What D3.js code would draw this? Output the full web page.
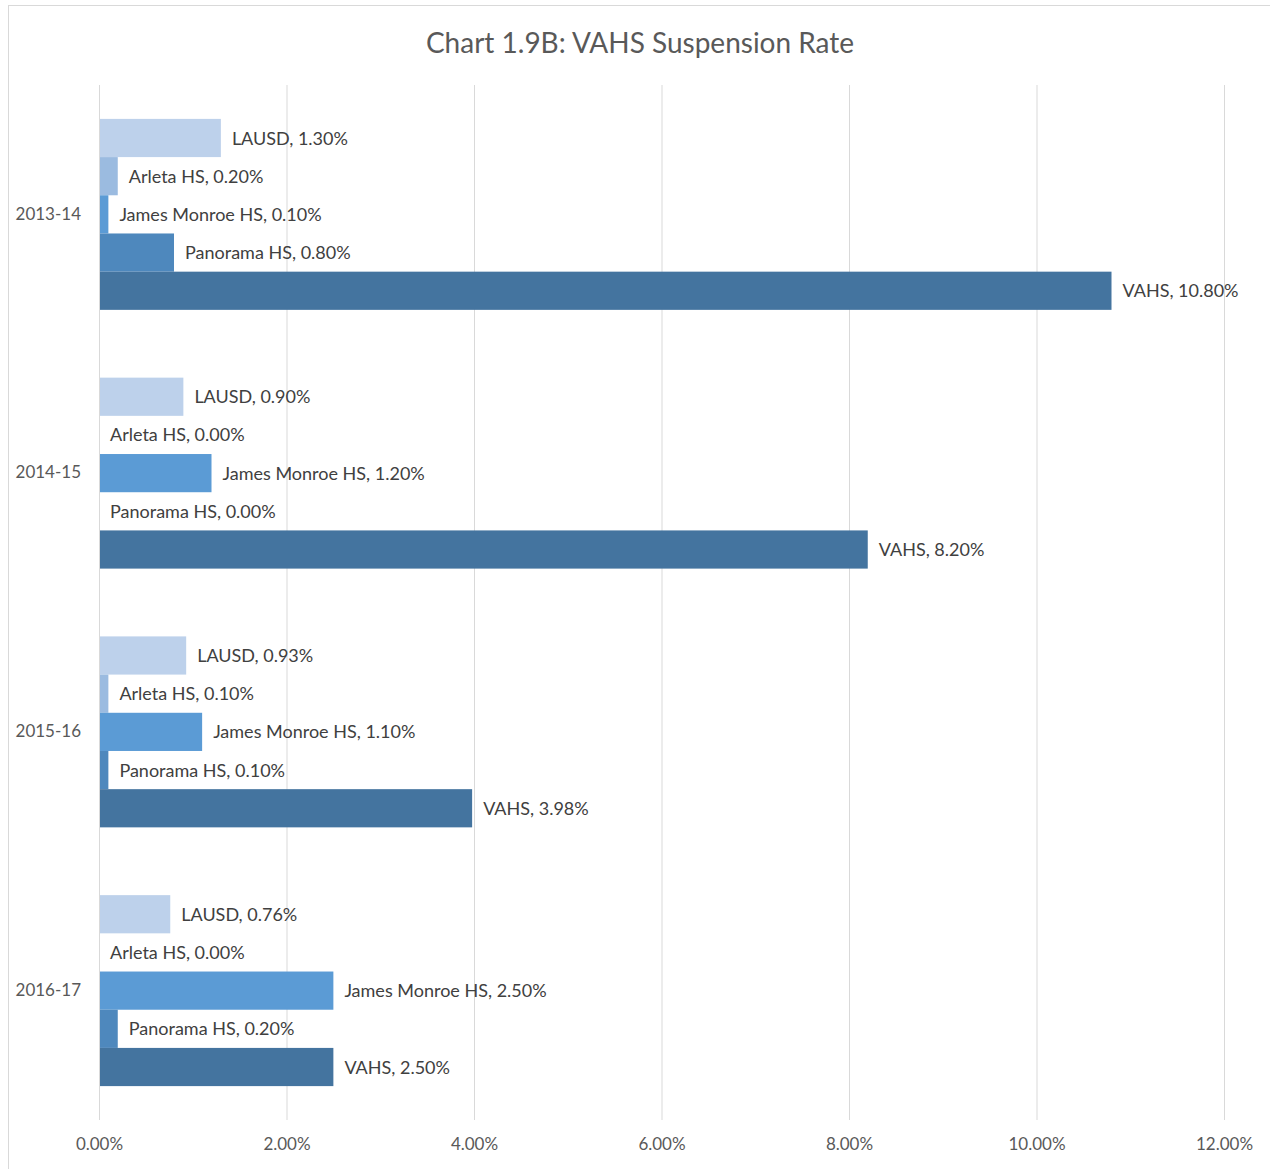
<!DOCTYPE html>
<html>
<head>
<meta charset="utf-8">
<script src="https://cdn.jsdelivr.net/npm/d3@7"></script>
<style>
  body { margin: 0; background: #fff; }
  svg { display: block; font-family: Lato, "Open Sans", sans-serif; }
</style>
</head>
<body>
<div id="chart"></div>
<script>
const years = ["2013-14", "2014-15", "2015-16", "2016-17"];
const schools = ["LAUSD", "Arleta HS", "James Monroe HS", "Panorama HS", "VAHS"];
const colors = ["#bdd1eb", "#9bbbe0", "#5b9bd5", "#4e88bd", "#44749f"];

const lausd = [1.30, 0.90, 0.93, 0.76];
const arleta = [0.20, 0.00, 0.10, 0.00];
const monroe = [0.10, 1.20, 1.10, 2.50];
const panorama = [0.80, 0.00, 0.10, 0.20];
const vahs = [10.80, 8.20, 3.98, 2.50];
const seriesValues = [lausd, arleta, monroe, panorama, vahs];

const xTicks = [0, 2, 4, 6, 8, 10, 12];

const W = 1270, H = 1169;
const margin = { top: 85, right: 46, bottom: 49, left: 99 };
const width = W - margin.left - margin.right;
const height = H - margin.top - margin.bottom;

const svg = d3.select("#chart").append("svg")
    .attr("width", W)
    .attr("height", H);

// outer chart border
svg.append("rect")
    .attr("x", 8.5).attr("y", 5.5)
    .attr("width", W + 10).attr("height", H + 10)
    .attr("fill", "none")
    .attr("stroke", "#d9d9d9");

svg.append("text")
    .attr("x", 640).attr("y", 46)
    .attr("text-anchor", "middle")
    .attr("dominant-baseline", "middle")
    .attr("fill", "#595959")
    .attr("font-size", 28)
    .text("Chart 1.9B: VAHS Suspension Rate");

const g = svg.append("g")
    .attr("transform", `translate(${margin.left}, ${margin.top})`);

const x = d3.scaleLinear().domain([0, 12]).range([0, width]);
const y0 = d3.scaleBand().domain(years).range([0, height]).paddingInner(0.262).paddingOuter(0.131);
const y1 = d3.scaleBand().domain(schools).range([0, y0.bandwidth()]);

// gridlines
g.append("g")
    .selectAll("line")
    .data(xTicks)
    .join("line")
    .attr("x1", d => x(d) + 0.5).attr("x2", d => x(d) + 0.5)
    .attr("y1", 0).attr("y2", height)
    .attr("stroke", "#d9d9d9");

const xAxis = d3.axisBottom(x)
    .tickValues(xTicks)
    .tickSize(0)
    .tickPadding(18)
    .tickFormat(d => d.toFixed(2) + "%");

g.append("g")
    .attr("transform", `translate(0, ${height})`)
    .call(xAxis)
    .call(a => a.select(".domain").remove())
    .selectAll("text")
    .attr("fill", "#595959")
    .attr("font-size", 17)
    .attr("font-family", "Lato, sans-serif");

// category labels
g.append("g")
    .selectAll("text")
    .data(years)
    .join("text")
    .attr("x", -18)
    .attr("y", d => y0(d) + y0.bandwidth() / 2 + 1)
    .attr("text-anchor", "end")
    .attr("dominant-baseline", "middle")
    .attr("fill", "#595959")
    .attr("font-size", 17)
    .text(d => d);

const rows = [];
years.forEach((yr, i) => {
    schools.forEach((s, j) => {
        rows.push({ year: yr, school: s, value: seriesValues[j][i], color: colors[j] });
    });
});

const groups = g.append("g");

groups.selectAll("rect")
    .data(rows)
    .join("rect")
    .attr("x", x(0) + 1)
    .attr("y", d => y0(d.year) + y1(d.school))
    .attr("width", d => Math.max(0, x(d.value) - x(0) - 1))
    .attr("height", y1.bandwidth())
    .attr("fill", d => d.color);

groups.selectAll("text")
    .data(rows)
    .join("text")
    .attr("x", d => x(d.value) + 11)
    .attr("y", d => y0(d.year) + y1(d.school) + y1.bandwidth() / 2 + 2)
    .attr("dominant-baseline", "middle")
    .attr("fill", "#404040")
    .attr("font-size", 18)
    .text(d => `${d.school}, ${d.value.toFixed(2)}%`);
</script>
</body>
</html>
